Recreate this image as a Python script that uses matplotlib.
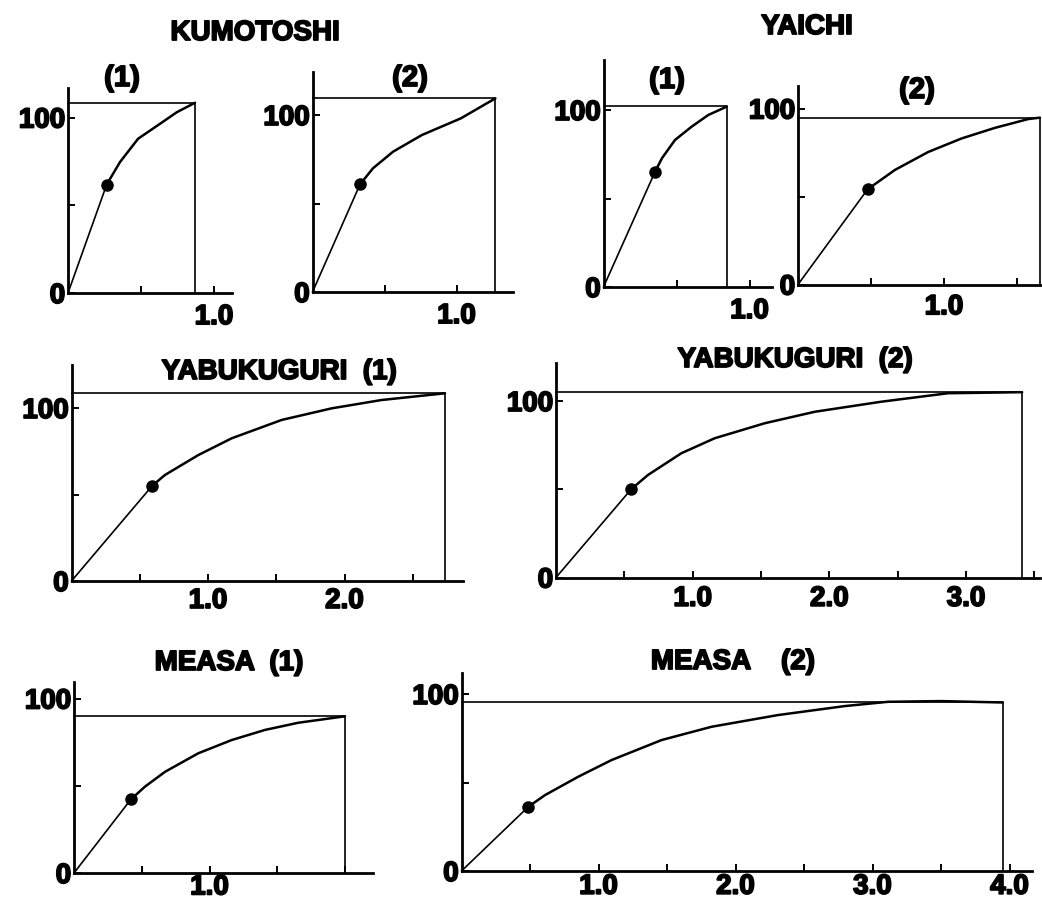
import numpy as np
import matplotlib
matplotlib.use("Agg")
import matplotlib.pyplot as plt
import matplotlib.patheffects as pe

plt.rcParams['font.family'] = ['Liberation Sans', 'DejaVu Sans']
plt.rcParams['font.weight'] = 'bold'

W, H = 1042, 901

# curve readings (x, y) for each panel; second point is the dot
kumo1_x = [0, 0.265, 0.356, 0.48, 0.63, 0.745, 0.87]
kumo1_y = [0, 61.8, 74.6, 87.9, 96.4, 103, 108.4]
kumo2_x = [0, 0.33, 0.42, 0.56, 0.76, 1.03, 1.27]
kumo2_y = [0, 60.8, 69.9, 79.3, 88.7, 98.1, 109.4]
yaichi1_x = [0, 0.353, 0.4, 0.49, 0.604, 0.718, 0.844]
yaichi1_y = [0, 65.1, 72.7, 83.1, 90.6, 97.2, 101.9]
yaichi2_x = [0, 0.477, 0.664, 0.892, 1.121, 1.349, 1.577, 1.657]
yaichi2_y = [0, 54.1, 65.1, 75.3, 83, 89, 94, 94.8]
yabu1_x = [0, 0.592, 0.685, 0.929, 1.174, 1.54, 1.906, 2.27, 2.736]
yabu1_y = [0, 55.1, 61.3, 72.8, 82.5, 93.1, 99.8, 104.6, 108.5]
yabu2_x = [0, 0.551, 0.673, 0.917, 1.161, 1.527, 1.893, 2.38, 2.868, 3.41]
yabu2_y = [0, 50.1, 58.1, 70.4, 78.9, 87.4, 93.9, 99.6, 104.4, 105]
measa1_x = [0, 0.42, 0.524, 0.672, 0.917, 1.164, 1.41, 1.655, 2.0]
measa1_y = [0, 42.2, 49.5, 58, 68.6, 76.2, 82, 86.1, 89.8]
measa2_x = [0, 0.488, 0.61, 0.853, 1.096, 1.461, 1.826, 2.31, 2.8, 3.115, 3.5, 3.95]
measa2_y = [0, 36.3, 42.9, 53.3, 62.7, 74, 81.5, 88.1, 93.2, 95.6, 96, 95.2]

# asymptote box (end x, top y)
kumo1_box = (0.87, 108.4)
kumo2_box = (1.27, 109.4)
yaichi1_box = (0.844, 102)
yaichi2_box = (1.657, 94.8)
yabu1_box = (2.736, 108.5)
yabu2_box = (3.41, 105)
measa1_box = (2.0, 89.8)
measa2_box = (3.95, 95.6)

# which x ticks carry a label
kumo1_lab = [1.0]
kumo2_lab = [1.0]
yaichi1_lab = [1.0]
yaichi2_lab = [1.0]
yabu1_lab = [1.0, 2.0]
yabu2_lab = [1.0, 2.0, 3.0]
measa1_lab = [1.0]
measa2_lab = [1.0, 2.0, 3.0, 4.0]

# layout in pixels: origin x, px per x unit, origin y, px per y unit, axis x end, axis y top, label pad
panels = [
    (kumo1_x, kumo1_y, kumo1_box, kumo1_lab, (68, 146, 293, 1.755, 232, 88, 8)),
    (kumo2_x, kumo2_y, kumo2_box, kumo2_lab, (312.5, 144, 292, 1.77, 513, 72, 8)),
    (yaichi1_x, yaichi1_y, yaichi1_box, yaichi1_lab, (603.5, 146, 287, 1.77, 772, 60, 8)),
    (yaichi2_x, yaichi2_y, yaichi2_box, yaichi2_lab, (798, 146, 284.5, 1.76, 1042, 86, 7)),
    (yabu1_x, yabu1_y, yabu1_box, yabu1_lab, (71.5, 136.5, 581, 1.73, 463, 365, 5)),
    (yabu2_x, yabu2_y, yabu2_box, yabu2_lab, (556, 136.7, 577.5, 1.765, 1040, 363, 6)),
    (measa1_x, measa1_y, measa1_box, measa1_lab, (74, 135.5, 873, 1.745, 373, 682, 1)),
    (measa2_x, measa2_y, measa2_box, measa2_lab, (461.5, 137, 871, 1.77, 1032, 673, 2)),
]

heavy = [pe.withStroke(linewidth=1.3, foreground='black')]

fig = plt.figure(figsize=(W / 100, H / 100), dpi=100)

for xs, ys, box, labs, (x0, sx, y0, sy, xend, ytop, pad) in panels:
    ax = fig.add_axes([x0 / W, 1 - y0 / H, (xend - x0) / W, (y0 - ytop) / H])
    xmax = (xend - x0) / sx
    ax.set_xlim(0, xmax)
    ax.set_ylim(0, (y0 - ytop) / sy)
    ax.patch.set_alpha(0)
    for s in ['top', 'right']:
        ax.spines[s].set_visible(False)
    for s in ['left', 'bottom']:
        ax.spines[s].set_linewidth(2.0)
    # straight part to the dot, then the curve
    ax.plot(xs[:2], ys[:2], color='black', lw=1.2, clip_on=False)
    ax.plot(xs[1:], ys[1:], color='black', lw=1.8, clip_on=False, solid_capstyle='round')
    ax.plot(xs[1], ys[1], 'o', color='black', ms=8, clip_on=False)
    ax.plot([0, box[0], box[0]], [box[1], box[1], 0], color='black', lw=1.2, clip_on=False)
    xt = np.arange(0.5, xmax, 0.5)
    ax.set_xticks(xt)
    ax.set_xticklabels(['%.1f' % v if any(abs(v - l) < 1e-6 for l in labs) else '' for v in xt])
    ax.set_yticks([0, 50, 100])
    ax.set_yticklabels(['0', '', '100'])
    ax.tick_params(direction='in', length=5, width=1.4, labelsize=20)
    ax.tick_params(axis='x', pad=pad)
    ax.tick_params(axis='y', pad=2)
    for t in ax.get_xticklabels() + ax.get_yticklabels():
        t.set_path_effects(heavy)

titles = [
    ('KUMOTOSHI', 255, 33, 20),
    ('(1)', 122, 78, 21),
    ('(2)', 410, 78, 21),
    ('YAICHI', 807, 27, 20),
    ('(1)', 667, 80, 21),
    ('(2)', 917, 90, 21),
    ('YABUKUGURI  (1)', 279, 372, 20),
    ('YABUKUGURI  (2)', 795, 360, 20),
    ('MEASA  (1)', 229, 663, 20),
    ('MEASA    (2)', 733, 662, 20),
]
for txt, px, py, fs in titles:
    fig.text(px / W, 1 - py / H, txt, ha='center', va='center', fontsize=fs,
             fontweight='bold', path_effects=heavy)

fig.savefig('out.png', dpi=100)
